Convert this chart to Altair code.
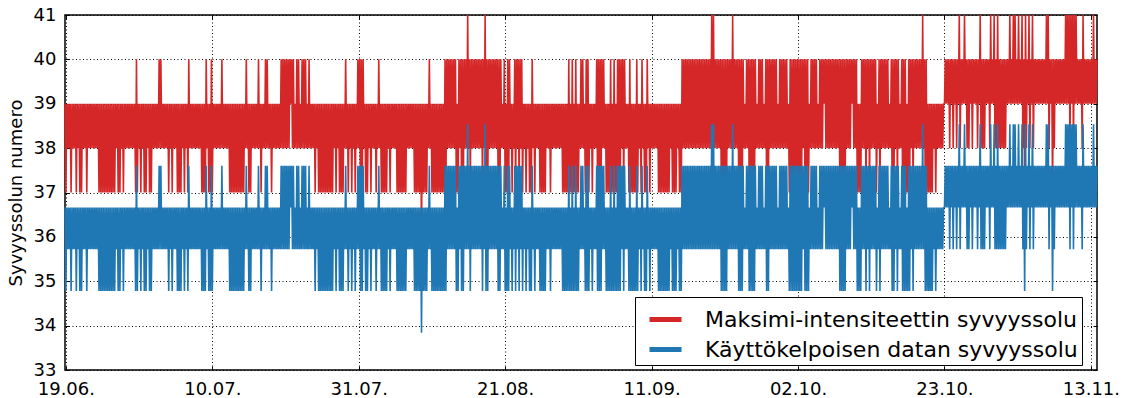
import altair as alt
import pandas as pd

# One code per 3-hour sample, first sample 18.06. 21:00
# code -> depth cell: 6=36, 7=37, 8=38, 9=39, 0=40, 1=41
start_time = "2014-06-18 21:00"
cell_codes = [
    "9",
    "79898979898979897979898979898989898989797979797979797979",  # 19.06.-25.06.
    "79897979897989898989898970798979897979897979898989808089",  # 26.06.-02.07.
    "89898979897989897979798979897089898989898989797970897970",  # 03.07.-09.07.
    "79898989898089898989797979797979797979808979798989898089",  # 10.07.-16.07.
    "79898080898979898989898080808080809080898080898080808980",  # 17.07.-23.07.
    "89898979897979797979797979798979897979798089798979897980",  # 24.07.-30.07.
    "80707089797989798989798089797979798979898989797979797979",  # 31.07.-06.08.
    "89898989797979796979797980897979797979797970708080808080",  # 07.08.-13.08.
    "79708070708081807080808080808070817070808080808070708980",  # 14.08.-20.08.
    "79707089798070807080798979897970897989897979797989897989",  # 21.08.-27.08.
    "89898989897979797079707970797980808970707989798980707070",  # 28.08.-03.09.
    "80897979707970797070708070898970797979707989708979708979",  # 04.09.-10.09.
    "89898989797979797979798979797989797080808080808080808080",  # 11.09.-17.09.
    "80808080808081818080808070707070808081808080707070898080",  # 18.09.-24.09.
    "70707070898080808980707080808080898080808080897070707070",  # 25.09.-01.10.
    "70707080707079808080808980808090808080808080808070707070",  # 02.10.-08.10.
    "80808090808079797080807080708080807980708080808089807070",  # 09.10.-15.10.
    "80708980707079707080708080808081807079797979897989898989",  # 16.10.-22.10.
    "90909080908090809180909190808090809090809180808090908190",  # 23.10.-29.10.
    "91808180808080809091909191909190918071809180918090909090",  # 30.10.-05.11.
    "90909191809070809090909090919191819181919090908190909090",  # 06.11.-12.11.
    "90919090",                                                  # 13.11.
]
red_levels = {"6": 36.0, "7": 37.0, "8": 38.0, "9": 39.0, "0": 40.0, "1": 41.0}
blue_levels = {"6": 33.84, "7": 34.78, "8": 35.72, "9": 36.66, "0": 37.6, "1": 38.54}

series_names = ["Maksimi-intensiteettin syvyyssolu", "Käyttökelpoisen datan syvyyssolu"]
series_colors = ["#d62728", "#1f77b4"]

tick_dates = [(2014, 6, 19), (2014, 7, 10), (2014, 7, 31), (2014, 8, 21),
              (2014, 9, 11), (2014, 10, 2), (2014, 10, 23), (2014, 11, 13)]
y_ticks = [33, 34, 35, 36, 37, 38, 39, 40, 41]

codes = "".join(cell_codes)
times = pd.date_range(start_time, periods=len(codes), freq="3h")
stamps = [t.strftime("%Y-%m-%dT%H:%M:%S") for t in times]

rows = []
for name, levels in zip(series_names, [red_levels, blue_levels]):
    for ts, c in zip(stamps, codes):
        rows.append({"t": ts, "v": levels[c], "s": name})
df = pd.DataFrame(rows)

t_first = times[0]
t_last = times[-1]
x_domain = [
    alt.DateTime(year=t_first.year, month=t_first.month, date=t_first.day, hours=t_first.hour),
    alt.DateTime(year=t_last.year, month=t_last.month, date=t_last.day, hours=t_last.hour),
]
x_values = [alt.DateTime(year=y, month=m, date=d) for (y, m, d) in tick_dates]

FONT = "DejaVu Sans"
x_scale = alt.Scale(domain=x_domain, nice=False)
y_scale = alt.Scale(domain=[33, 41], nice=False, zero=False)
color_scale = alt.Scale(domain=series_names, range=series_colors)

legend = alt.Legend(
    title=None, orient="none", legendX=570, legendY=282,
    symbolType="stroke", symbolSize=1024, symbolStrokeWidth=5,
    symbolOffset=8, labelOffset=21, padding=4, rowPadding=0,
    labelFontSize=22, labelFont=FONT, labelColor="black", labelLimit=0,
    strokeColor="black", fillColor="white", cornerRadius=0, zindex=2,
)

# main axes: labels, grid and inward ticks (axis pulled 4px into the plot)
red = alt.Chart(df).transform_filter(alt.datum.s == series_names[0]).mark_line(
    strokeWidth=1.6, strokeJoin="bevel"
).encode(
    x=alt.X("t:T", scale=x_scale,
            axis=alt.Axis(values=x_values, format="%d.%m.", title=None, orient="bottom",
                          offset=-4, tickSize=4, labelPadding=10, grid=True)),
    y=alt.Y("v:Q", scale=y_scale,
            axis=alt.Axis(values=y_ticks, title="Syvyyssolun numero", orient="left",
                          offset=-4, tickSize=4, labelPadding=9,
                          titlePadding=8, grid=True)),
    color=alt.Color("s:N", scale=color_scale, legend=legend),
)

# opposite axes: inward ticks only
blue = alt.Chart(df).transform_filter(alt.datum.s == series_names[1]).mark_line(
    strokeWidth=1.6, strokeJoin="bevel"
).encode(
    x=alt.X("t:T", scale=x_scale,
            axis=alt.Axis(values=x_values, title=None, orient="top", labels=False,
                          offset=-4, tickSize=4, grid=False)),
    y=alt.Y("v:Q", scale=y_scale,
            axis=alt.Axis(values=y_ticks, title=None, orient="right", labels=False,
                          offset=-4, tickSize=4, grid=False)),
    color=alt.Color("s:N", scale=color_scale, legend=legend),
)

chart = alt.layer(red, blue).resolve_axis(x="independent", y="independent").properties(
    width=1032, height=355,
    padding={"left": 65, "top": 15, "right": 31, "bottom": 28},
    autosize=alt.AutoSizeParams(type="none"),
    background="white",
).configure_view(
    stroke="black", strokeWidth=1.5
).configure_axis(
    labelFont=FONT, labelFontSize=18, labelColor="black",
    titleFont=FONT, titleFontSize=18, titleFontWeight="normal", titleColor="black",
    gridColor="black", gridDash=[1, 2.5], gridWidth=1, gridOpacity=1,
    domain=False, tickColor="black", tickWidth=1, zindex=1,
    labelFlush=False, labelOverlap=False, labelBound=False,
)

chart.save("out.html", embed_options={"renderer": "svg", "actions": False})
